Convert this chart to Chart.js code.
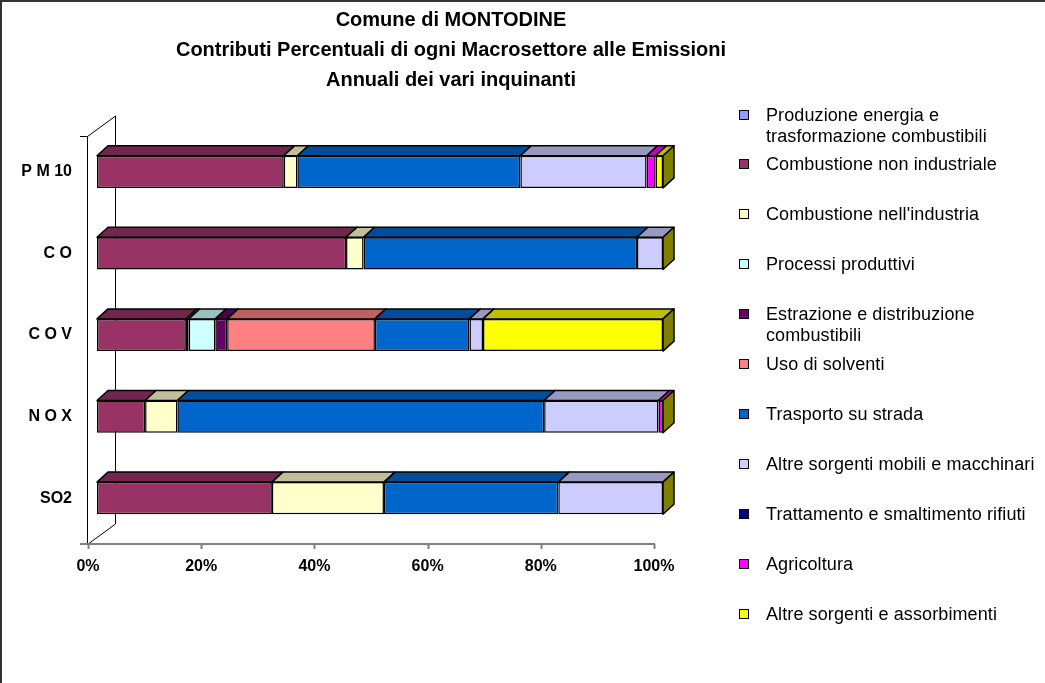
<!DOCTYPE html>
<html>
<head>
<meta charset="utf-8">
<title>Comune di MONTODINE</title>
<script src="https://cdn.jsdelivr.net/npm/chart.js@4.4.1/dist/chart.umd.min.js"></script>
<style>
    body { margin: 0; background: #fff; font-family: Arial, "Liberation Sans", sans-serif; }
    #frame { position: absolute; left: 0; top: 0; width: 1045px; height: 683px; border-left: 2px solid #333; border-top: 2px solid #333; box-sizing: border-box; }
    #stonk { position: absolute; left: 0; top: 0; }
    #legend { position: absolute; left: 738px; top: 0; }
    .item { position: absolute; left: 0; width: 305px; font-size: 18px; line-height: 21px; letter-spacing: 0.1px; color: #000; }
    .box { position: absolute; left: 1px; top: 5px; width: 8px; height: 8px; border: 1.5px solid #000; }
    .txt { position: absolute; left: 28px; top: 0; white-space: nowrap; }
</style>
</head>
<body>
<div id="frame"></div>
<canvas id="stonk" width="902" height="683"></canvas>
<div id="legend"></div>

<script>
const FONT = 'Arial, "Liberation Sans", sans-serif';

const TITLE = [
    'Comune di MONTODINE',
    'Contributi Percentuali di ogni Macrosettore alle Emissioni',
    'Annuali dei vari inquinanti'
];

// inquinanti, dall'alto in basso
const CATEGORIES = ['P M 10', 'C O', 'C O V', 'N O X', 'SO2'];

const SECTORS = [
    ['Produzione energia e', 'trasformazione combustibili'],
    ['Combustione non industriale'],
    ["Combustione nell'industria"],
    ['Processi produttivi'],
    ['Estrazione e distribuzione', 'combustibili'],
    ['Uso di solventi'],
    ['Trasporto su strada'],
    ['Altre sorgenti mobili e macchinari'],
    ['Trattamento e smaltimento rifiuti'],
    ['Agricoltura'],
    ['Altre sorgenti e assorbimenti']
];

const COLORS = ['#9999FF', '#993366', '#FFFFCC', '#CCFFFF', '#660066', '#FF8080',
                '#0066CC', '#CCCCFF', '#000080', '#FF00FF', '#FFFF00'];

const X_TICKS = [0, 20, 40, 60, 80, 100];

// percentuali per PM10, CO, COV, NOX, SO2
const PRODUZIONE      = [0,    0,    0,    0,    0];
const COMB_NON_IND    = [33.0, 44.0, 15.7, 8.5,  30.9];
const COMB_IND        = [2.4,  3.1,  0.5,  5.7,  19.8];
const PROCESSI        = [0,    0,    4.7,  0,    0];
const ESTRAZIONE      = [0,    0,    2.1,  0,    0];
const SOLVENTI        = [0,    0,    26.1, 0,    0];
const TRASPORTO       = [39.4, 48.3, 16.7, 64.8, 30.8];
const ALTRE_MOBILI    = [22.3, 4.6,  2.4,  20.2, 18.5];
const RIFIUTI         = [0,    0,    0,    0,    0];
const AGRICOLTURA     = [1.6,  0,    0,    0.8,  0];
const ALTRE_SORGENTI  = [1.3,  0,    31.8, 0,    0];

const SERIES = [PRODUZIONE, COMB_NON_IND, COMB_IND, PROCESSI, ESTRAZIONE, SOLVENTI,
                TRASPORTO, ALTRE_MOBILI, RIFIUTI, AGRICOLTURA, ALTRE_SORGENTI];

const DEPTH_X = 11;
const DEPTH_Y = 10;


const shade = (hex, f) => {
    const n = parseInt(hex.slice(1), 16);
    const r = Math.round(((n >> 16) & 255) * f);
    const g = Math.round(((n >> 8) & 255) * f);
    const b = Math.round((n & 255) * f);
    return `rgb(${r},${g},${b})`;
}

const poly = (ctx, pts, fill) => {
    ctx.beginPath();
    ctx.moveTo(pts[0][0], pts[0][1]);
    pts.slice(1).forEach(p => ctx.lineTo(p[0], p[1]));
    ctx.closePath();
    ctx.fillStyle = fill;
    ctx.fill();
    ctx.stroke();
}


// parete di fondo e asse x, disegnati sotto le barre
const wallPlugin = {
    id: 'wall',
    beforeDatasetsDraw(chart) {
        const { ctx, chartArea } = chart;
        const xs = chart.scales.x;
        const L = chartArea.left, T = chartArea.top, B = chartArea.bottom;

        ctx.save();
        ctx.strokeStyle = '#000';
        ctx.lineWidth = 1;
        ctx.beginPath();
        ctx.moveTo(L - 17, T + 5.5);
        ctx.lineTo(L - 9.5, T + 5.5);
        ctx.lineTo(L + 18.5, T - 15);
        ctx.lineTo(L + 18.5, B - 15);
        ctx.lineTo(L - 9.5, B + 5.5);
        ctx.moveTo(L - 9.5, T + 5.5);
        ctx.lineTo(L - 9.5, B + 5.5);
        ctx.stroke();

        ctx.strokeStyle = '#808080';
        ctx.lineWidth = 2;
        ctx.beginPath();
        ctx.moveTo(L - 17, B + 5);
        ctx.lineTo(xs.getPixelForValue(100) - 8, B + 5);
        X_TICKS.forEach(v => {
            const px = Math.round(xs.getPixelForValue(v) - 9) + 0.5;
            ctx.moveTo(px, B + 5);
            ctx.lineTo(px, B + 10);
        });
        ctx.stroke();
        ctx.restore();
    }
}


// facce superiori e laterali delle barre (effetto 3D)
const boxPlugin = {
    id: 'box3d',
    afterDatasetsDraw(chart) {
        const { ctx } = chart;
        const metas = chart.data.datasets.map((_, i) => chart.getDatasetMeta(i));

        ctx.save();
        ctx.strokeStyle = '#000';
        ctx.lineWidth = 1.5;
        ctx.lineJoin = 'round';

        CATEGORIES.forEach((_, j) => {
            metas.forEach((meta, i) => {
                const el = meta.data[j];
                const { x, base, y, height } = el.getProps(['x', 'base', 'y', 'height'], true);
                if (x - base < 0.5) return;
                const top = y - height / 2;
                poly(ctx, [[base, top], [x, top], [x + DEPTH_X, top - DEPTH_Y], [base + DEPTH_X, top - DEPTH_Y]],
                     shade(COLORS[i], 0.75));
            });

            const last = metas[metas.length - 1].data[j];
            const { x, y, height } = last.getProps(['x', 'y', 'height'], true);
            const top = y - height / 2, bottom = y + height / 2;
            poly(ctx, [[x, top], [x + DEPTH_X, top - DEPTH_Y], [x + DEPTH_X, bottom - DEPTH_Y], [x, bottom]],
                 shade(COLORS[COLORS.length - 1], 0.5));
        });
        ctx.restore();
    }
}


const datasets = SERIES.map((values, i) => ({
    label: SECTORS[i].join(' '),
    data: values,
    backgroundColor: COLORS[i],
    borderColor: '#000',
    borderWidth: 1.5,
    borderSkipped: false,
    barPercentage: 0.395,
    categoryPercentage: 1
}));


const ctx = document.getElementById('stonk').getContext('2d');

const CHART = new Chart(ctx, {
    type: 'bar',
    data: {
        labels: CATEGORIES,
        datasets: datasets
    },
    options: {
        indexAxis: 'y',
        responsive: false,
        animation: false,
        devicePixelRatio: 1,
        plugins: {
            legend: { display: false },
            tooltip: { enabled: false },
            title: {
                display: true,
                text: TITLE,
                color: '#000',
                font: { family: FONT, size: 20, weight: 'bold', lineHeight: 1.5 },
                padding: { top: 5, bottom: 36 }
            }
        },
        scales: {
            x: {
                stacked: true,
                min: 0,
                max: 100,
                afterBuildTicks: s => { s.ticks = X_TICKS.map(v => ({ value: v })); },
                afterFit: s => { s.height = 144; },
                ticks: {
                    callback: v => v + '%',
                    color: '#000',
                    font: { family: FONT, size: 16, weight: 'bold' },
                    labelOffset: -9,
                    padding: 18
                },
                grid: { display: false, drawTicks: false },
                border: { display: false }
            },
            y: {
                stacked: true,
                afterFit: s => { s.width = 97; },
                ticks: {
                    color: '#000',
                    font: { family: FONT, size: 16, weight: 'bold' },
                    padding: 25
                },
                grid: { display: false, drawTicks: false },
                border: { display: false }
            },
            // spazio vuoto a destra riservato alla legenda
            yRight: {
                type: 'category',
                labels: CATEGORIES,
                position: 'right',
                afterFit: s => { s.width = 239; },
                ticks: { display: false },
                grid: { display: false, drawTicks: false },
                border: { display: false }
            }
        }
    },
    plugins: [wallPlugin, boxPlugin]
});


// legenda a destra
const legend = document.getElementById('legend');
legend.innerHTML = SECTORS.map((lines, i) => {
    const top = 104.5 + i * 49.9;
    return `<div class="item" style="top:${top}px"><div class="box" style="background:${COLORS[i]}"></div>` +
           `<div class="txt">${lines.join('<br>')}</div></div>`;
}).join('');
</script>
</body>
</html>
